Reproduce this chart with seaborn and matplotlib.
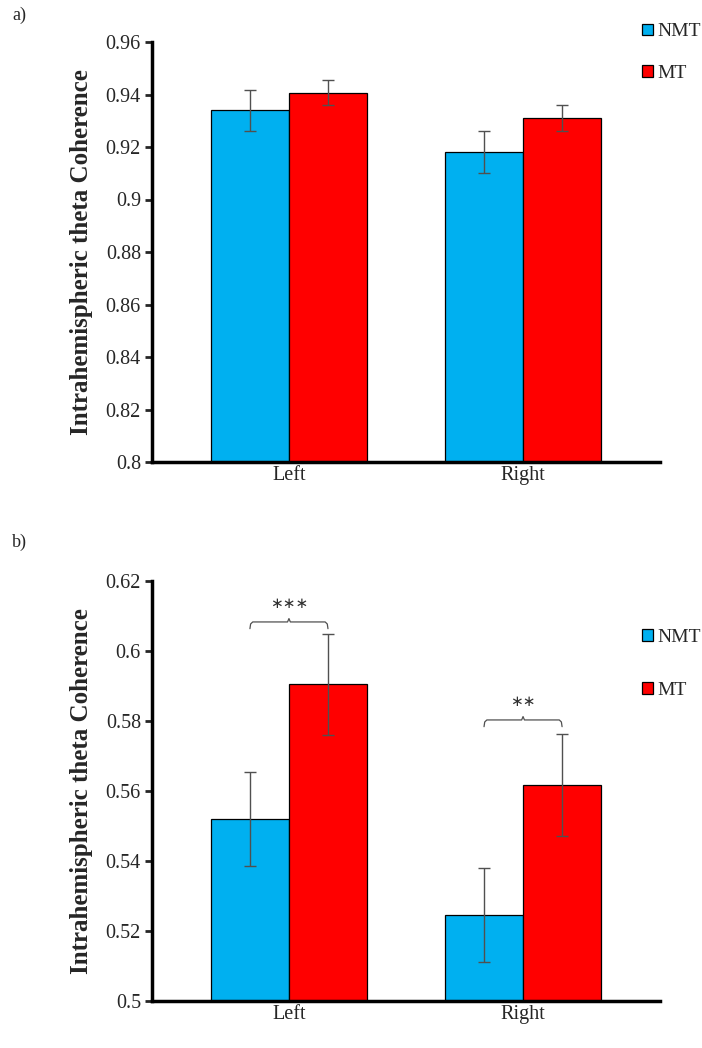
import numpy as np
import pandas as pd
import matplotlib.pyplot as plt
import seaborn as sns

# Datos
lados = ['Left', 'Right']
grupos = ['NMT', 'MT']

media_a = {'NMT': [0.934, 0.918], 'MT': [0.9407, 0.931]}
error_a = {'NMT': [0.0078, 0.008], 'MT': [0.0048, 0.005]}

media_b = {'NMT': [0.552, 0.5245], 'MT': [0.5905, 0.5617]}
error_b = {'NMT': [0.0135, 0.0135], 'MT': [0.0145, 0.0145]}

ticks_a = [0.8, 0.82, 0.84, 0.86, 0.88, 0.9, 0.92, 0.94, 0.96]
ticks_b = [0.5, 0.52, 0.54, 0.56, 0.58, 0.6, 0.62]
etiquetas_a = ['0.8', '0.82', '0.84', '0.86', '0.88', '0.9', '0.92', '0.94', '0.96']
etiquetas_b = ['0.5', '0.52', '0.54', '0.56', '0.58', '0.6', '0.62']

# significancia: (lado, altura llave, altura texto, texto)
signif_b = [(0, 0.6083, 0.6115, '∗∗∗'), (1, 0.5803, 0.5835, '∗∗')]

paleta = {'NMT': '#00B0F0', 'MT': '#FF0000'}

sns.set_style('white')
plt.rcParams['font.family'] = ['Liberation Serif', 'DejaVu Serif']


def armar_df(media, error):
    filas = []
    for g in grupos:
        for i, lado in enumerate(lados):
            filas.append({'lado': lado, 'grupo': g, 'valor': media[g][i], 'err': error[g][i]})
    return pd.DataFrame(filas)


def grafico(ax, df, ylim, ticks, etiquetas, leg_y, leg_esp):
    sns.barplot(data=df, x='lado', y='valor', hue='grupo', hue_order=grupos,
                order=lados, palette=paleta, saturation=1, width=0.667, errorbar=None,
                edgecolor='black', linewidth=0.9, ax=ax)
    # barras de error
    for cont, g in zip(ax.containers, grupos):
        xs = [p.get_x() + p.get_width() / 2 for p in cont.patches]
        ys = [p.get_height() for p in cont.patches]
        errs = df[df['grupo'] == g].set_index('lado').loc[lados, 'err'].values
        ax.errorbar(xs, ys, yerr=errs, fmt='none', ecolor='#505050',
                    elinewidth=1.0, capsize=4, capthick=1.0)
    ax.set_ylim(*ylim)
    ax.set_xlim(-0.585, 1.585)
    ax.set_yticks(ticks)
    ax.set_yticklabels(etiquetas, fontsize=14.5)
    ax.tick_params(axis='x', labelsize=14.5, length=0, pad=3)
    ax.tick_params(axis='y', direction='out', length=5, width=2, left=True, pad=3)
    ax.set_xlabel('')
    ax.set_ylabel('Intrahemispheric theta Coherence', fontsize=18,
                  fontweight='bold', labelpad=9)
    for s in ['top', 'right']:
        ax.spines[s].set_visible(False)
    for s in ['left', 'bottom']:
        ax.spines[s].set_linewidth(2.5)
        ax.spines[s].set_color('black')
    h, l = ax.get_legend_handles_labels()
    ax.legend(h, l, frameon=False, loc='upper left', bbox_to_anchor=(0.95, leg_y),
              fontsize=14, handlelength=0.55, handleheight=0.55,
              handletextpad=0.2, labelspacing=leg_esp, borderaxespad=0)


def llave(ax, xc, y, txt_y, txt):
    # llave tipo Excel sobre el par de barras
    x0 = xc - 0.1667
    x1 = xc + 0.1667
    d = 0.012
    h = (ax.get_ylim()[1] - ax.get_ylim()[0]) * 0.016
    xs = [x0, x0 + 0.003, x0 + d, xc - d / 2, xc, xc + d / 2, x1 - d, x1 - 0.003, x1]
    ys = [y - h, y - h * 0.3, y, y, y + h * 0.5, y, y, y - h * 0.3, y - h]
    ax.plot(xs, ys, color='#505050', lw=0.9)
    ax.text(xc, txt_y, txt, ha='center', va='bottom', fontsize=11, color='#303030',
            family=['DejaVu Sans'])


fig = plt.figure(figsize=(7.02, 10.48), dpi=100)
ax_a = fig.add_axes([152 / 702, 1 - 462 / 1048, 508 / 702, 420 / 1048])
ax_b = fig.add_axes([152 / 702, 1 - 1001 / 1048, 508 / 702, 420 / 1048])

grafico(ax_a, armar_df(media_a, error_a), (0.8, 0.96), ticks_a, etiquetas_a, 1.063, 1.25)
grafico(ax_b, armar_df(media_b, error_b), (0.5, 0.62), ticks_b, etiquetas_b, 0.905, 1.85)

for i, y, ty, txt in signif_b:
    llave(ax_b, i, y, ty, txt)

fig.text(12 / 702, 1 - 15 / 1048, 'a)', fontsize=13, va='center')
fig.text(12 / 702, 1 - 542 / 1048, 'b)', fontsize=13, va='center')

fig.savefig('out.png', dpi=100)
